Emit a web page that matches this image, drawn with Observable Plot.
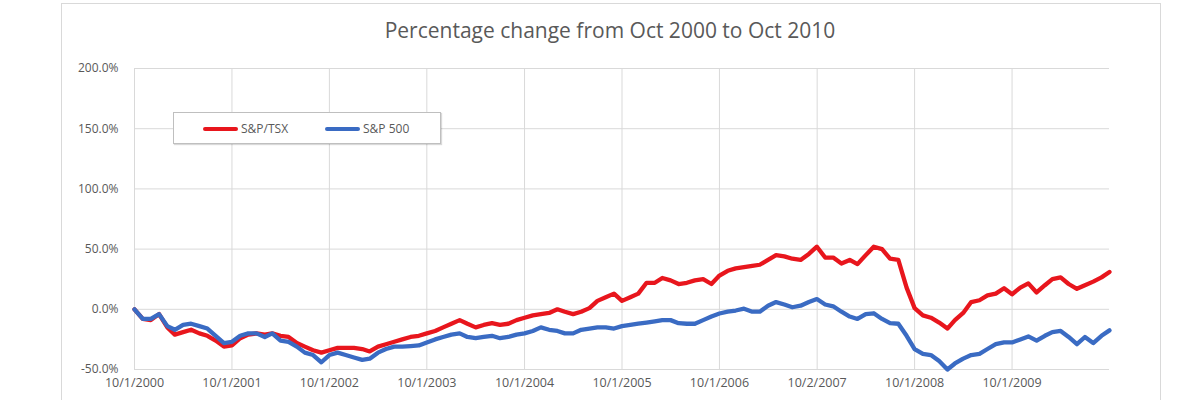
<!DOCTYPE html>
<html>
<head>
<meta charset="utf-8">
<script src="https://cdn.jsdelivr.net/npm/d3@7"></script>
<script src="https://cdn.jsdelivr.net/npm/@observablehq/plot@0.6"></script>
<style>
  html, body { margin: 0; padding: 0; background: #fff; }
  #wrap { position: relative; width: 1200px; height: 400px; overflow: hidden; font-family: "Open Sans", sans-serif; }
  #frame { position: absolute; left: 61px; top: 3px; width: 1100px; height: 420px; border: 1px solid #d9d9d9; box-sizing: border-box; }
  #title { position: absolute; left: 0; width: 1220px; top: 16px; text-align: center; font-size: 21px; color: #595959; }
  #legend { position: absolute; left: 173px; top: 112px; width: 268px; height: 32px; box-sizing: border-box; border: 1px solid #bfbfbf; background: #fff; box-shadow: 1px 1px 1px rgba(0,0,0,0.15); font-size: 12px; color: #595959; }
  .item { position: absolute; top: 7px; display: flex; align-items: center; }
  .sw { width: 35px; height: 4px; margin-right: 3px; border-radius: 2px; }
  #chart { position: absolute; left: 0; top: 0; }
</style>
</head>
<body>
<div id="wrap">
  <div id="frame"></div>
  <div id="chart"></div>
  <div id="title">Percentage change from Oct 2000 to Oct 2010</div>
  <div id="legend"></div>
</div>
<script>
const title = "Percentage change from Oct 2000 to Oct 2010";
const seriesNames = ["S&P/TSX", "S&P 500"];
const seriesColors = ["#e8161d", "#3a6bc3"];
const startMonth = "2000-10-01";
const tickLabels = ["10/1/2000","10/1/2001","10/1/2002","10/1/2003","10/1/2004","10/1/2005","10/1/2006","10/2/2007","10/1/2008","10/1/2009"];
const yTicks = [-50, 0, 50, 100, 150, 200];

// monthly percentage change since Oct 2000
const tsx = [0,-8,-9,-4,-15,-21,-19,-17,-20,-22,-26,-31,-30,-24,-21,-20,-21,-20,-22,-23,-28,-31,-34,-36,
  -34,-32,-32,-32,-33,-35,-31,-29,-27,-25,-23,-22,
  -20,-18,-15,-12,-9,-12,-15,-13,-11.5,-13,-12,-9,
  -7,-5,-4,-3,0,-2,-4,-2,1,7,10,13,
  7,10,13,22,22,26,24,21,22,24,25,21,
  28,32,34,35,36,37,41,45,44,42,41,46,
  52,43,43,38,41,37.5,45,52,50,42,41,18,
  1,-5,-7,-11,-16,-9,-3,6,7.5,11.5,13,17.5,
  12.5,18,21.5,14,20,25,26.5,21,17,20,23,26.5,31];
const sp500 = [0,-8,-8,-4,-14,-17,-13,-12,-14,-16,-22,-28,-27,-22,-20,-20,-23,-20,-26,-27,-31,-36,-38,-44,
  -38,-36,-38,-40,-42,-41,-36,-33,-31,-31,-30.5,-30,
  -27.5,-25,-23,-21,-20,-23,-24,-23,-22,-24,-23,-21,
  -20,-18,-15,-17,-18,-20,-20,-17,-16,-15,-15,-16,
  -14,-13,-12,-11,-10,-9,-9,-11.5,-12,-12,-9,-6,
  -3.5,-2,-1,0.5,-2,-2,3,6,4,1.7,3,6,
  8.5,4,2.5,-2,-6,-8,-4,-3.3,-8,-11.5,-12,-22,
  -33,-37,-38,-43,-50,-45,-41,-38,-37,-33,-29,-27.5,
  -27.5,-25,-22.5,-26,-22,-19,-18,-23,-29,-23,-28,-22,-17.5];

const start = new Date(startMonth + "T00:00:00Z");
const dates = tsx.map((_, i) => d3.utcMonth.offset(start, i));
const rows = [];
[tsx, sp500].forEach((vals, s) => vals.forEach((v, i) => rows.push({series: seriesNames[s], date: dates[i], value: v})));

const parseTick = d3.utcParse("%m/%d/%Y");
const tickDates = tickLabels.map(parseTick);
const labelOf = new Map(tickDates.map((d, i) => [+d, tickLabels[i]]));

const chart = Plot.plot({
  width: 1200,
  height: 400,
  marginLeft: 134,
  marginRight: 91,
  marginTop: 68,
  marginBottom: 31,
  style: {fontFamily: "'Open Sans', sans-serif", fontSize: "12px", color: "#595959", background: "transparent", overflow: "visible"},
  x: {type: "utc", domain: [dates[0], dates[dates.length - 1]]},
  y: {domain: [-50, 200]},
  color: {domain: seriesNames, range: seriesColors},
  marks: [
    Plot.gridY(yTicks, {stroke: "#d9d9d9", strokeOpacity: 1}),
    Plot.gridX(tickDates, {stroke: "#d9d9d9", strokeOpacity: 1}),
    Plot.ruleY([-50], {stroke: "#d9d9d9"}),
    Plot.axisY(yTicks, {tickSize: 0, tickPadding: 16, tickFormat: d => d.toFixed(1) + "%", label: null, fontSize: 12, fill: "#595959"}),
    Plot.axisX(tickDates, {tickSize: 0, tickPadding: 9, tickFormat: d => labelOf.get(+d), label: null, fontSize: 12.5, fill: "#595959"}),
    Plot.line(rows, {x: "date", y: "value", stroke: "series", z: "series", strokeWidth: 4.3, strokeLinejoin: "round", strokeLinecap: "round"})
  ]
});
document.getElementById("chart").appendChild(chart);
document.getElementById("title").textContent = title;

const legend = document.getElementById("legend");
const lefts = [29, 151];
seriesNames.forEach((name, i) => {
  const it = document.createElement("div");
  it.className = "item";
  it.style.left = lefts[i] + "px";
  const sw = document.createElement("div");
  sw.className = "sw";
  sw.style.background = seriesColors[i];
  const tx = document.createElement("span");
  tx.textContent = name;
  it.appendChild(sw);
  it.appendChild(tx);
  legend.appendChild(it);
});
</script>
</body>
</html>
